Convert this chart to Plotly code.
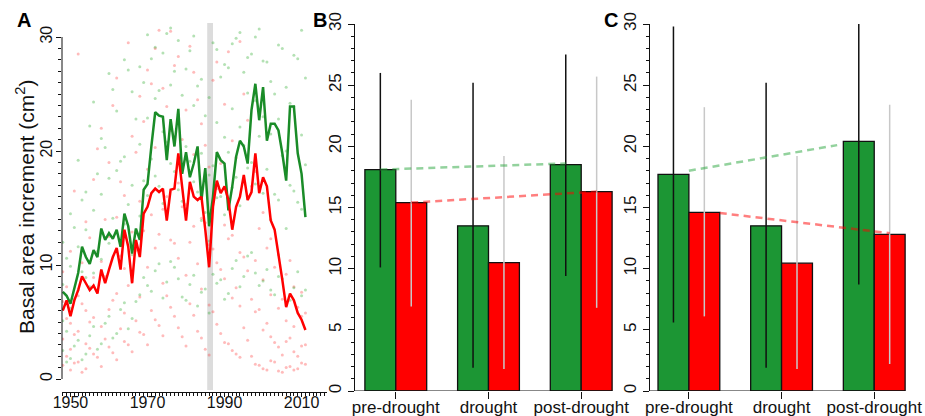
import plotly.graph_objects as go

# ---------------- data ----------------
years = list(range(1948, 2012))
green_line = [7.65, 7.3, 6.6, 8.1, 9.3, 11.6, 10.7, 10.1, 11.3, 10.7,
              13.2, 12.2, 12.8, 12.3, 13.1, 11.6, 14.5, 13.4, 11.0, 13.2,
              12.2, 16.6, 17.1, 20.4, 23.4, 23.1, 23.0, 19.2, 22.8, 20.4,
              23.7, 18.0, 19.9, 17.7, 18.9, 20.4, 15.7, 18.5, 13.4, 16.0,
              19.9, 19.2, 18.9, 14.8, 16.9, 19.5, 20.9, 20.4, 18.9, 23.6,
              25.9, 22.7, 25.6, 20.9, 22.4, 22.4, 21.8, 19.8, 17.4, 23.9,
              23.9, 19.8, 18.0, 14.2]
red_line = [6.0, 6.9, 5.5, 6.9, 7.8, 9.0, 8.4, 7.8, 8.2, 7.5,
            9.6, 8.4, 9.6, 10.7, 11.5, 9.6, 13.1, 11.6, 8.4, 12.2,
            10.7, 14.5, 15.1, 16.3, 16.7, 16.4, 16.7, 13.9, 16.6, 16.7,
            19.8, 16.9, 13.9, 17.3, 16.0, 15.7, 16.0, 13.1, 9.8, 15.1,
            17.4, 16.3, 16.9, 15.7, 13.1, 15.1, 16.0, 17.9, 15.7, 16.4,
            19.8, 16.3, 17.7, 16.9, 13.9, 13.1, 11.0, 8.7, 6.3, 7.5,
            6.9, 5.8, 5.2, 4.3]

# individual-tree values (approximate cloud), one list per year 1948..2011
red_dots = [
    [1.2, 3.5, 6.8, 9.4], [2.0, 5.3, 8.1], [0.8, 2.6, 4.9, 11.2], [1.4, 3.9, 16.5],
    [1.5, 4.2, 7.3, 28.5], [0.6, 6.6, 10.2], [0.9, 3.1, 6.0, 13.8], [2.7, 5.0, 12.4],
    [2.2, 5.4, 8.9, 17.5], [1.9, 7.7, 20.2], [1.1, 4.6, 10.3, 22.0], [3.5, 9.0, 14.0],
    [2.8, 6.1, 12.5, 19.0], [2.3, 6.9, 24.0], [1.7, 7.5, 14.2, 26.4], [4.4, 10.8, 17.3],
    [3.3, 5.8, 9.7, 16.1], [3.0, 8.2, 29.5], [2.4, 8.6, 12.9, 21.3], [5.1, 11.3, 19.9],
    [4.1, 7.2, 15.6, 24.8], [3.9, 13.0, 22.6], [3.0, 9.8, 18.4, 27.1], [6.0, 14.4, 25.9],
    [5.2, 11.5, 20.3, 29.0], [4.7, 12.7, 30.6], [3.8, 8.4, 14.9, 25.5], [7.3, 16.0, 23.9],
    [6.3, 12.2, 21.8, 30.5], [5.5, 11.9, 27.5], [4.5, 10.6, 17.2, 28.3], [3.7, 15.1, 21.0],
    [2.9, 9.1, 15.3, 23.6], [6.6, 12.0, 29.2], [5.6, 13.4, 19.7, 26.9], [4.2, 10.1, 24.5],
    [3.6, 7.9, 14.1, 22.4], [2.6, 13.7, 20.5], [2.1, 6.5, 11.8, 18.6], [5.9, 11.4, 26.2],
    [4.8, 10.2, 16.7, 27.8], [4.0, 9.6, 18.9], [3.2, 8.8, 13.5, 24.1], [3.1, 12.3, 28.7],
    [2.5, 7.1, 12.6, 20.9], [2.2, 8.0, 19.4], [1.9, 6.4, 11.1, 29.6], [4.5, 10.7, 25.0],
    [3.4, 9.5, 15.8, 22.7], [2.0, 7.0, 16.9], [1.3, 5.9, 10.4, 18.2], [1.2, 6.1, 13.2],
    [0.9, 4.3, 8.7, 14.6], [0.8, 4.9, 11.5], [1.6, 3.7, 7.4, 12.3], [1.5, 3.2, 9.8],
    [0.7, 2.8, 6.2, 10.9], [0.6, 2.1, 7.0], [1.0, 3.3, 5.1, 9.2], [1.1, 3.6, 10.4],
    [0.8, 2.4, 4.6, 8.1], [0.9, 2.0, 6.3], [1.4, 2.9, 5.5, 7.6], [1.3, 3.0, 5.8],
]
green_dots = [
    [2.5, 5.1, 8.3, 12.0], [1.5, 4.2, 10.6], [1.8, 6.2, 9.9, 14.5], [2.9, 7.0, 13.3],
    [3.4, 7.8, 11.6, 19.2], [1.7, 9.4, 15.7], [2.2, 8.9, 13.1, 16.4], [3.8, 8.1, 22.2],
    [4.6, 9.3, 14.8, 24.3], [2.6, 11.2, 18.0], [3.1, 10.5, 16.2, 21.1], [4.9, 12.4, 20.3],
    [5.5, 11.9, 17.6, 26.8], [3.6, 14.1, 25.4], [4.0, 12.8, 18.3, 23.5], [6.1, 11.7, 19.1],
    [6.7, 13.6, 19.5, 28.0], [4.4, 15.3, 27.1], [5.3, 10.9, 17.0, 25.2], [6.8, 13.0, 22.8],
    [7.4, 14.3, 20.6, 27.4], [8.9, 17.4, 26.0], [8.2, 16.1, 22.9, 30.2], [7.7, 19.3, 28.1],
    [9.5, 17.8, 24.6, 29.1], [10.1, 16.9, 25.3], [7.1, 15.4, 21.7, 28.6], [8.5, 20.8, 30.3],
    [10.3, 18.9, 25.8, 30.8], [9.8, 18.2, 27.0], [8.8, 16.6, 23.2, 29.7], [7.2, 15.6, 24.9],
    [6.9, 14.7, 20.4, 27.2], [8.3, 19.1, 28.8], [9.1, 17.3, 24.0, 30.1], [6.4, 16.4, 25.7],
    [7.6, 13.9, 19.8, 26.3], [7.9, 14.6, 23.1], [5.8, 12.1, 17.9, 24.7], [9.2, 18.7, 29.5],
    [8.4, 15.9, 22.5, 28.9], [8.7, 16.0, 26.5], [7.0, 14.4, 21.2, 27.6], [7.5, 19.9, 27.3],
    [9.7, 16.8, 23.7, 29.4], [10.4, 17.7, 29.9], [8.1, 15.2, 22.1, 30.4], [9.0, 20.5, 26.9],
    [10.8, 18.5, 25.1, 28.2], [11.1, 19.0, 28.5], [9.3, 17.1, 24.4, 30.0], [8.2, 21.3, 30.7],
    [8.6, 16.3, 23.0, 27.9], [9.6, 18.4, 27.8], [7.8, 14.0, 21.5, 26.1], [7.4, 16.2, 25.0],
    [9.0, 15.7, 22.8, 29.3], [8.8, 19.6, 29.0], [6.5, 13.2, 20.0, 25.6], [6.9, 17.0, 24.2],
    [8.0, 16.5, 23.9, 28.4], [9.4, 15.5, 28.1], [7.3, 14.9, 21.4, 30.6], [7.8, 18.8, 26.4],
]
drought_year = 1986
year_ticks = [1950, 1970, 1990, 2010]
year_labels = ["1950", "1970", "1990", "2010"]

periods = ["pre-drought", "drought", "post-drought"]
# panel B
b_green = [18.1, 13.5, 18.5]
b_red = [15.4, 10.5, 16.3]
b_green_lo = [10.1, 1.9, 9.4]
b_green_hi = [26.0, 25.2, 27.5]
b_red_lo = [6.9, 1.8, 6.8]
b_red_hi = [23.8, 19.2, 25.7]
b_green_trend = [18.1, 18.6]
b_red_trend = [15.4, 16.3]
# panel C
c_green = [17.7, 13.5, 20.4]
c_red = [14.6, 10.45, 12.8]
c_green_lo = [5.6, 1.9, 8.7]
c_green_hi = [29.8, 25.2, 30.0]
c_red_lo = [6.1, 1.8, 2.2]
c_red_hi = [23.2, 19.2, 23.4]
c_green_trend = [18.0, 20.1]
c_red_trend = [14.55, 12.9]

# ---------------- layout helpers ----------------
W, H = 925, 416
def px(x):
    return x / W
def py(y):
    return 1 - y / H

FONT = "Liberation Sans, Arial, sans-serif"
GREEN = "#1c9634"
RED = "#ff0000"
LGREEN = "rgba(40,165,60,0.5)"
LRED = "rgba(255,0,0,0.5)"

fig = go.Figure()

# ---- Panel A ----
dx_r, dy_r, dx_g, dy_g = [], [], [], []
for yr, vals in zip(years, red_dots):
    for v in vals:
        dx_r.append(yr); dy_r.append(v)
for yr, vals in zip(years, green_dots):
    for v in vals:
        dx_g.append(yr); dy_g.append(v)
fig.add_trace(go.Scatter(x=dx_r, y=dy_r, mode="markers", xaxis="x", yaxis="y",
                         marker=dict(size=3, color="rgba(255,60,60,0.35)", line=dict(width=0))))
fig.add_trace(go.Scatter(x=dx_g, y=dy_g, mode="markers", xaxis="x", yaxis="y",
                         marker=dict(size=3, color="rgba(40,170,40,0.35)", line=dict(width=0))))
fig.add_trace(go.Scatter(x=years, y=green_line, mode="lines", xaxis="x", yaxis="y",
                         line=dict(color="#1a8c28", width=2.5)))
fig.add_trace(go.Scatter(x=years, y=red_line, mode="lines", xaxis="x", yaxis="y",
                         line=dict(color=RED, width=2.5)))

# ---- Panels B and C ----
gx = [1.5, 4.5, 7.5]
rx = [2.5, 5.5, 8.5]

def add_bars(xa, ya, g, r, glo, ghi, rlo, rhi, gtr, rtr, gtx, rtx):
    fig.add_trace(go.Bar(x=gx, y=g, width=1, xaxis=xa, yaxis=ya,
                         marker=dict(color=GREEN, line=dict(color="#111111", width=1.3))))
    fig.add_trace(go.Bar(x=rx, y=r, width=1, xaxis=xa, yaxis=ya,
                         marker=dict(color=RED, line=dict(color="#111111", width=1.3))))
    ex, ey = [], []
    for x, lo, hi in zip(gx, glo, ghi):
        ex += [x, x, None]; ey += [lo, hi, None]
    fig.add_trace(go.Scatter(x=ex, y=ey, mode="lines", xaxis=xa, yaxis=ya,
                             line=dict(color="#111111", width=1.5)))
    ex, ey = [], []
    for x, lo, hi in zip(rx, rlo, rhi):
        ex += [x, x, None]; ey += [lo, hi, None]
    fig.add_trace(go.Scatter(x=ex, y=ey, mode="lines", xaxis=xa, yaxis=ya,
                             line=dict(color="#c8c8c8", width=1.5)))
    fig.add_trace(go.Scatter(x=gtx, y=gtr, mode="lines", xaxis=xa, yaxis=ya,
                             line=dict(color=LGREEN, width=2.5, dash="7px,5px")))
    fig.add_trace(go.Scatter(x=rtx, y=rtr, mode="lines", xaxis=xa, yaxis=ya,
                             line=dict(color=LRED, width=2.5, dash="7px,5px")))

add_bars("x2", "y2", b_green, b_red, b_green_lo, b_green_hi, b_red_lo, b_red_hi,
         b_green_trend, b_red_trend, [1.5, 7.5], [2.5, 8.5])
add_bars("x3", "y3", c_green, c_red, c_green_lo, c_green_hi, c_red_lo, c_red_hi,
         c_green_trend, c_red_trend, [2.0, 6.8], [3.0, 8.5])

tickfont = dict(family=FONT, size=17, color="#111111")
tickfontA = dict(family=FONT, size=16, color="#111111")

def yax(**kw):
    d = dict(showgrid=False, zeroline=False, ticks="outside", tickcolor="#111111",
             tickangle=-90, tickfont=tickfont, fixedrange=True, automargin=False)
    d.update(kw)
    return d

fig.update_layout(
    template="none",
    width=W, height=H, margin=dict(l=0, r=0, t=0, b=0, pad=0, autoexpand=False),
    paper_bgcolor="white", plot_bgcolor="white", showlegend=False,
    barmode="overlay", font=dict(family=FONT),
    xaxis=dict(domain=[px(62), px(327)], range=[1947.8, 2016.6], anchor="y", automargin=False,
               showgrid=False, zeroline=False, showline=True, linecolor="#111111", linewidth=1,
               ticks="outside", ticklen=4, tickcolor="#111111",
               tickvals=year_ticks, ticktext=year_labels, ticklabelstandoff=-8,
               tickfont=tickfontA, fixedrange=True,
               minor=dict(dtick=1, tick0=1948, ticklen=3, ticks="outside", tickcolor="#111111")),
    yaxis=yax(domain=[py(392), py(23)], range=[-1.14, 31.23], anchor="x",
              showline=False, ticklen=5, tickvals=[0, 10, 20, 30], tickfont=tickfontA,
              ticklabelstandoff=-2,
              minor=dict(tickvals=list(range(0, 31)), ticklen=3, ticks="outside",
                         tickcolor="#111111")),
    xaxis2=dict(domain=[px(355), px(622)], range=[0.68, 9.32], anchor="y2", automargin=False,
                showgrid=False, zeroline=False, showline=False, fixedrange=True,
                ticks="outside", ticklen=7, tickcolor="#111111", ticklabelstandoff=-6,
                tickvals=[2, 5, 8], ticktext=periods, tickfont=tickfont),
    yaxis2=yax(domain=[py(391), py(24)], range=[0, 30], anchor="x2",
               showline=True, linecolor="#111111", linewidth=1, ticklen=6, dtick=5, tick0=0,
               minor=dict(dtick=1, ticklen=3, ticks="outside", tickcolor="#111111")),
    xaxis3=dict(domain=[px(650), px(915)], range=[0.741, 9.32], anchor="y3", automargin=False,
                showgrid=False, zeroline=False, showline=False, fixedrange=True,
                ticks="outside", ticklen=7, tickcolor="#111111", ticklabelstandoff=-6,
                tickvals=[2, 5, 8], ticktext=periods, tickfont=tickfont),
    yaxis3=yax(domain=[py(391), py(24)], range=[0, 30], anchor="x3",
               showline=True, linecolor="#111111", linewidth=1, ticklen=6, dtick=5, tick0=0,
               minor=dict(dtick=1, ticklen=3, ticks="outside", tickcolor="#111111")),
)

shapes = [
    dict(type="rect", xref="x", yref="paper", x0=drought_year - 0.5, x1=drought_year + 1.0,
         y0=py(390), y1=py(23), fillcolor="#dcdcdc", line=dict(width=0), layer="below"),
    dict(type="line", xref="paper", yref="y", x0=px(62), x1=px(62), y0=0, y1=30,
         line=dict(color="#111111", width=1)),
    dict(type="line", xref="x2", yref="y2", x0=0.68, x1=9, y0=0, y1=0,
         line=dict(color="#111111", width=1)),
    dict(type="line", xref="x3", yref="y3", x0=0.741, x1=9, y0=0, y1=0,
         line=dict(color="#111111", width=1)),
]
fig.update_layout(shapes=shapes)

annotations = [
    dict(text="<b>A</b>", x=px(24), y=py(20), xref="paper", yref="paper", showarrow=False,
         font=dict(family=FONT, size=20, color="black"), xanchor="center", yanchor="middle"),
    dict(text="<b>B</b>", x=px(320), y=py(20), xref="paper", yref="paper", showarrow=False,
         font=dict(family=FONT, size=20, color="black"), xanchor="center", yanchor="middle"),
    dict(text="<b>C</b>", x=px(611), y=py(20), xref="paper", yref="paper", showarrow=False,
         font=dict(family=FONT, size=20, color="black"), xanchor="center", yanchor="middle"),
    dict(text="Basal area increment (cm<sup>2</sup>)", x=px(25), y=py(207), xref="paper",
         yref="paper", showarrow=False, textangle=-90,
         font=dict(family=FONT, size=21, color="#111111"), xanchor="center", yanchor="middle"),
]
fig.update_layout(annotations=annotations)

fig.write_html("out.html", config={"displayModeBar": False, "staticPlot": True},
               post_script="document.body.style.margin='0';document.body.style.overflow='hidden';")
